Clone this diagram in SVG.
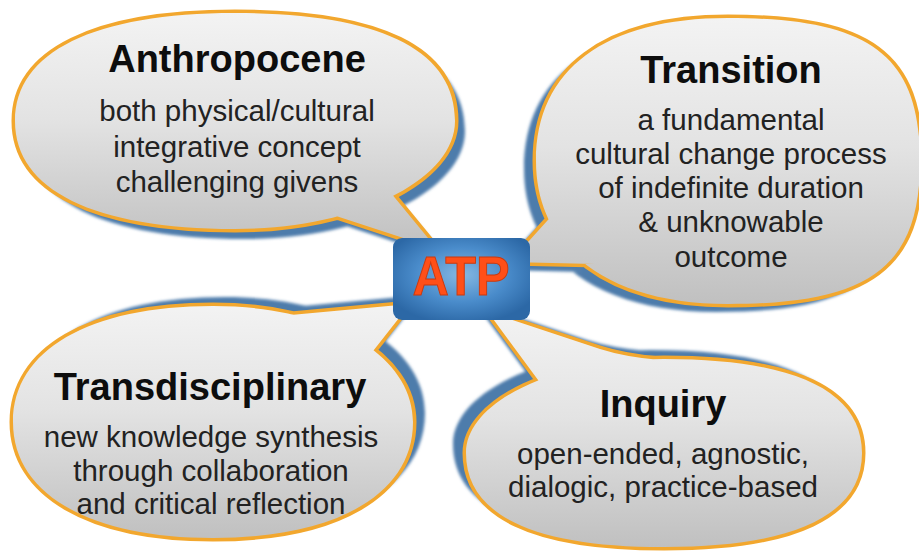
<svg xmlns="http://www.w3.org/2000/svg" xmlns:xlink="http://www.w3.org/1999/xlink" width="919" height="555" viewBox="0 0 919 555">
<defs>
<style>
.shadow{fill:#4d7cab;filter:url(#blur)}
.rim{fill:#f2a72e;stroke:#f2a72e;stroke-width:7;stroke-linejoin:miter}
.body{fill:url(#bodyGrad)}
.title{font-family:"Liberation Sans",Arial,Helvetica,sans-serif;font-weight:bold;font-size:38px;fill:#0d0d0d;text-anchor:middle}
.txt{font-family:"Liberation Sans",Arial,Helvetica,sans-serif;font-size:29.5px;fill:#222222;text-anchor:middle}
.atp{font-family:"Liberation Sans",Arial,Helvetica,sans-serif;font-weight:bold;font-size:55px;fill:#ff4f18;stroke:#c83a10;stroke-width:1;text-anchor:middle}
</style>
<filter id="blur" x="-10%" y="-10%" width="120%" height="120%"><feGaussianBlur stdDeviation="1.8"/></filter>
<linearGradient id="bodyGrad" x1="0" y1="0" x2="0" y2="1">
<stop offset="0" stop-color="#f3f3f3"/>
<stop offset="0.45" stop-color="#e3e3e3"/>
<stop offset="1" stop-color="#c0c0c0"/>
</linearGradient>
<radialGradient id="boxGrad" cx="0.5" cy="0.45" r="0.6">
<stop offset="0" stop-color="#86b8e2"/>
<stop offset="0.55" stop-color="#4a8ccb"/>
<stop offset="1" stop-color="#2c68a6"/>
</radialGradient>
<path id="shA" d="M455,121 C455,180.4 356,229 235,229 C94.2,229 15,190.1 15,121 C15,51.9 94.2,13 235,13 C380.2,13 455,49.7 455,121 Z M372,170 L437,249 L330,214 L300,205 Z"/>
<path id="shT" d="M920,161 C920,266.8 870.1,304 728,304 C609,304 536,249.7 536,161 C536,69.5 605.1,18 728,18 C870.1,18 920,55.2 920,161 Z M600,240 L595,264 L510,262 L575,190 Z"/>
<path id="shD" d="M413,422 C413,493.9 337,538 213,538 C89,538 13,493.9 13,422 C13,350.1 89,306 213,306 C329,306 413,354.7 413,422 Z M280,316 L410,304 L355,374 L300,360 Z"/>
<path id="shI" d="M862,453 C862,515 794.7,547 664,547 C533.3,547 466,515 466,453 C466,401.3 555.1,359 664,359 C794.7,359 862,391 862,453 Z M488,312 L600,349 Q625,357 660,360 L620,400 L555,403 Z"/>
</defs>
<rect width="919" height="555" fill="#ffffff"/>
<g id="connectors"></g>
<g id="anthropocene">
<use xlink:href="#shA" href="#shA" class="shadow" transform="translate(10,10)"/>
<use xlink:href="#shA" href="#shA" class="rim"/>
<use xlink:href="#shA" href="#shA" class="body"/>
<text class="title" x="237" y="72">Anthropocene</text>
<text class="txt" x="237" y="121">both physical/cultural</text>
<text class="txt" x="237" y="157">integrative concept</text>
<text class="txt" x="237" y="192">challenging givens</text>
</g>
<g id="transition">
<use xlink:href="#shT" href="#shT" class="shadow" transform="translate(-12,8)"/>
<use xlink:href="#shT" href="#shT" class="rim"/>
<use xlink:href="#shT" href="#shT" class="body"/>
<text class="title" x="731" y="83">Transition</text>
<text class="txt" x="731" y="130">a fundamental</text>
<text class="txt" x="731" y="164">cultural change process</text>
<text class="txt" x="731" y="198">of indefinite duration</text>
<text class="txt" x="731" y="232">&amp; unknowable</text>
<text class="txt" x="731" y="267">outcome</text>
</g>
<g id="transdisciplinary">
<use xlink:href="#shD" href="#shD" class="shadow" transform="translate(12,-9)"/>
<use xlink:href="#shD" href="#shD" class="rim"/>
<use xlink:href="#shD" href="#shD" class="body"/>
<text class="title" x="210" y="400">Transdisciplinary</text>
<text class="txt" x="211" y="447">new knowledge synthesis</text>
<text class="txt" x="211" y="481">through collaboration</text>
<text class="txt" x="211" y="514">and critical reflection</text>
</g>
<g id="inquiry">
<use xlink:href="#shI" href="#shI" class="shadow" transform="translate(-13,-9)"/>
<use xlink:href="#shI" href="#shI" class="rim"/>
<use xlink:href="#shI" href="#shI" class="body"/>
<text class="title" x="663" y="417">Inquiry</text>
<text class="txt" x="663" y="464">open-ended, agnostic,</text>
<text class="txt" x="663" y="497">dialogic, practice-based</text>
</g>
<g id="atp">
<rect x="393" y="238" width="137" height="82" rx="9" fill="url(#boxGrad)"/>
<text class="atp" x="461" y="295" textLength="97" lengthAdjust="spacingAndGlyphs">ATP</text>
</g>
</svg>
